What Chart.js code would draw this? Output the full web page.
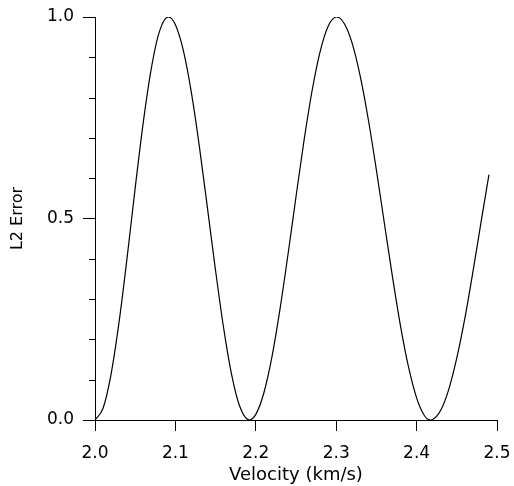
<!DOCTYPE html>
<html>
<head>
<meta charset="utf-8">
<script src="https://cdn.jsdelivr.net/npm/chart.js@4.4.0/dist/chart.umd.min.js"></script>
<style>
html, body { margin: 0; padding: 0; background: #fff; }
#wrap { width: 514px; height: 486px; }
</style>
</head>
<body>
<div id="wrap"><canvas id="grafico-erro"></canvas></div>
<script>
// Dados
const velocidades = [
    2.00, 2.01, 2.02, 2.03, 2.04, 2.05, 2.06, 2.07, 2.08, 2.0912,
    2.10, 2.11, 2.12, 2.13, 2.14, 2.15, 2.16, 2.17, 2.18, 2.1919,
    2.20, 2.21, 2.22, 2.23, 2.24, 2.25, 2.26, 2.27, 2.28, 2.29, 2.3006,
    2.31, 2.32, 2.33, 2.34, 2.35, 2.36, 2.37, 2.38, 2.39, 2.40, 2.41, 2.4175,
    2.42, 2.43, 2.44, 2.45, 2.46, 2.47, 2.48, 2.49
];
const erroL2 = [
    0.000, 0.029, 0.114, 0.244, 0.404, 0.576, 0.738, 0.872, 0.963, 1.000,
    0.981, 0.916, 0.811, 0.676, 0.524, 0.370, 0.228, 0.112, 0.034, 0.000,
    0.014, 0.067, 0.156, 0.274, 0.410, 0.554, 0.694, 0.817, 0.914, 0.977, 1.000,
    0.984, 0.934, 0.852, 0.745, 0.620, 0.487, 0.355, 0.233, 0.131, 0.055, 0.010, 0.000,
    0.001, 0.024, 0.076, 0.154, 0.252, 0.367, 0.489, 0.609
];
const xTicks = [2.0, 2.1, 2.2, 2.3, 2.4, 2.5];
const yTicksLabel = [0.0, 0.5, 1.0];

const isMajor = v => yTicksLabel.some(t => Math.abs(t - v) < 1e-6);

// Marcas menores do eixo y
const marcasMenores = {
    id: 'marcasMenores',
    afterDraw(chart) {
        const y = chart.scales.y;
        const ctx = chart.ctx;
        ctx.save();
        ctx.strokeStyle = '#000';
        ctx.lineWidth = 1;
        y.ticks.forEach(t => {
            if (isMajor(t.value)) return;
            const py = Math.round(y.getPixelForValue(t.value)) + 0.5;
            ctx.beginPath();
            ctx.moveTo(y.right - 6, py);
            ctx.lineTo(y.right, py);
            ctx.stroke();
        });
        ctx.restore();
    }
};

Chart.defaults.font.family = 'DejaVu Sans';
Chart.defaults.color = '#000';

new Chart(document.getElementById('grafico-erro').getContext('2d'), {
    type: 'line',
    data: {
        datasets: [{
            data: velocidades.map((v, i) => ({ x: v, y: erroL2[i] })),
            borderColor: '#000',
            borderWidth: 1.2,
            pointRadius: 0,
            cubicInterpolationMode: 'monotone',
            fill: false
        }]
    },
    options: {
        responsive: true,
        maintainAspectRatio: false,
        animation: false,
        layout: {
            padding: { top: 17, right: 17, left: 0, bottom: 0 }
        },
        plugins: {
            legend: { display: false },
            tooltip: { enabled: false }
        },
        scales: {
            x: {
                type: 'linear',
                min: 2.0,
                max: 2.5,
                afterFit: s => {
                    s.height = 66;
                    s.paddingLeft = 0;
                    s.paddingRight = 0;
                },
                afterBuildTicks: s => { s.ticks = xTicks.map(v => ({ value: v })); },
                ticks: {
                    font: { size: 17 },
                    padding: 12,
                    maxRotation: 0,
                    callback: v => v.toFixed(1)
                },
                grid: {
                    drawOnChartArea: false,
                    tickLength: 11,
                    color: '#000'
                },
                border: { color: '#000', width: 1 },
                title: {
                    display: true,
                    text: 'Velocity (km/s)',
                    font: { size: 18 },
                    padding: { top: 0, bottom: 0 }
                }
            },
            y: {
                type: 'linear',
                min: 0,
                max: 1,
                afterFit: s => {
                    s.width = 95;
                    s.paddingTop = 0;
                    s.paddingBottom = 0;
                },
                ticks: {
                    stepSize: 0.1,
                    font: { size: 17 },
                    padding: 9,
                    callback: v => isMajor(v) ? v.toFixed(1) : ''
                },
                grid: {
                    drawOnChartArea: false,
                    tickLength: 12,
                    color: '#000',
                    tickColor: c => isMajor(c.tick.value) ? '#000' : 'rgba(0,0,0,0)'
                },
                border: { color: '#000', width: 1 },
                title: {
                    display: true,
                    text: 'L2 Error',
                    font: { size: 16 },
                    padding: { top: 8, bottom: 0 }
                }
            }
        }
    },
    plugins: [marcasMenores]
});
</script>
</body>
</html>
